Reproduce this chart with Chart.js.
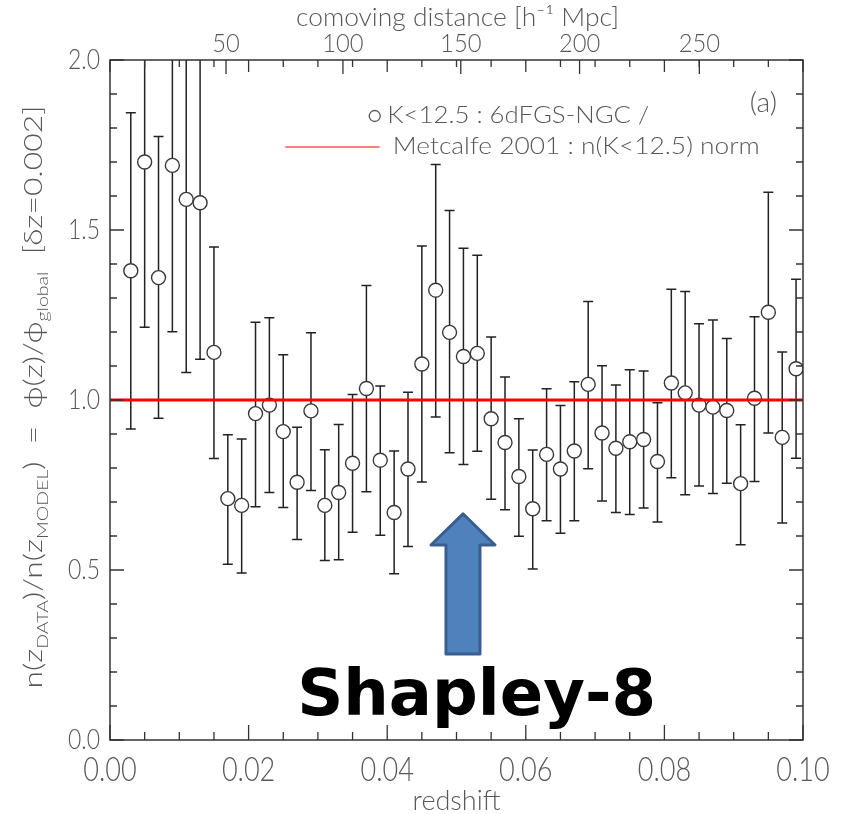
<!DOCTYPE html>
<html>
<head>
<meta charset="utf-8">
<script src="https://cdn.jsdelivr.net/npm/chart.js@4.4.1/dist/chart.umd.min.js"></script>
<style>
  html, body { margin: 0; padding: 0; background: #fff; }
  canvas { display: block; }
</style>
</head>
<body>
<canvas id="c" width="843" height="814"></canvas>
<script>
// ---------------- data ----------------
const redshift = [0.003,0.005,0.007,0.009,0.011,0.013,0.015,0.017,0.019,0.021,
                  0.023,0.025,0.027,0.029,0.031,0.033,0.035,0.037,0.039,0.041,
                  0.043,0.045,0.047,0.049,0.051,0.053,0.055,0.057,0.059,0.061,
                  0.063,0.065,0.067,0.069,0.071,0.073,0.075,0.077,0.079,0.081,
                  0.083,0.085,0.087,0.089,0.091,0.093,0.095,0.097,0.099];
const ratio    = [1.38,1.70,1.36,1.69,1.59,1.58,1.14,0.71,0.69,0.96,
                  0.985,0.907,0.758,0.968,0.690,0.728,0.814,1.034,0.823,0.669,
                  0.797,1.106,1.323,1.199,1.128,1.137,0.945,0.875,0.775,0.680,
                  0.840,0.797,0.850,1.046,0.903,0.858,0.877,0.884,0.819,1.050,
                  1.021,0.985,0.979,0.969,0.754,1.005,1.258,0.890,1.092];
const errHigh  = [1.845,2.19,1.775,2.17,2.10,2.04,1.450,0.898,0.885,1.229,
                  1.242,1.133,0.920,1.198,0.854,0.928,1.016,1.337,1.041,0.850,
                  1.023,1.453,1.693,1.557,1.446,1.426,1.185,1.068,0.945,0.853,
                  1.033,0.984,1.054,1.290,1.101,1.044,1.089,1.085,0.992,1.326,
                  1.319,1.224,1.235,1.181,0.927,1.245,1.611,1.141,1.355];
const errLow   = [0.915,1.214,0.946,1.201,1.081,1.120,0.828,0.517,0.491,0.686,
                  0.728,0.684,0.590,0.734,0.528,0.530,0.611,0.730,0.602,0.489,
                  0.569,0.759,0.950,0.845,0.810,0.849,0.708,0.677,0.599,0.503,
                  0.645,0.608,0.645,0.798,0.703,0.669,0.663,0.682,0.641,0.771,
                  0.721,0.747,0.725,0.755,0.574,0.760,0.903,0.638,0.829];
const modelLevel = [1.0, 1.0];
const modelRange = [0.0, 0.1];
const distanceTicks = [50, 100, 150, 200, 250];
const legendLabels = ['K<12.5 : 6dFGS-NGC /', 'Metcalfe 2001 : n(K<12.5) norm'];
const panelTag = '(a)';
const annotationText = 'Shapley-8';

// ---------------- helpers ----------------
const GRAY = '#585858';
const THIN = "300 {S}px Lato, 'DejaVu Sans', sans-serif";
function fnt(size, tmpl) { return (tmpl || THIN).replace('{S}', size); }

// comoving distance (h^-1 Mpc) -> redshift, flat LCDM Om=0.3
function comovingD(z) {
  const n = 200, h = z / n; let s = 0;
  const f = t => 1 / Math.sqrt(0.3 * Math.pow(1 + t, 3) + 0.7);
  for (let i = 0; i <= n; i++) {
    const w = (i === 0 || i === n) ? 1 : (i % 2 ? 4 : 2);
    s += w * f(i * h);
  }
  return 2997.92458 * s * h / 3;
}
function zOfD(d) {
  let lo = 0, hi = 0.2;
  for (let k = 0; k < 60; k++) { const m = (lo + hi) / 2; if (comovingD(m) < d) lo = m; else hi = m; }
  return (lo + hi) / 2;
}

// sx > 0: horizontal scale; sx < 0: fit to width |sx|
function drawText(ctx, s, x, y, size, align, sx, tmpl, color, baseline) {
  ctx.save();
  ctx.font = fnt(size, tmpl);
  ctx.fillStyle = color || GRAY;
  ctx.textAlign = align || 'center';
  ctx.textBaseline = baseline || 'middle';
  let k = sx || 1;
  if (k < 0) k = -k / ctx.measureText(s).width;
  ctx.translate(x, y);
  ctx.scale(k, 1);
  ctx.fillText(s, 0, 0);
  ctx.restore();
}

const near = (v, step) => Math.abs(v / step - Math.round(v / step)) < 1e-6;

const decor = {
  id: 'decor',
  beforeDatasetsDraw(chart) {
    const { ctx, chartArea: a, scales: { x, y } } = chart;
    ctx.save();
    ctx.beginPath(); ctx.rect(a.left, a.top, a.right - a.left, a.bottom - a.top); ctx.clip();
    ctx.strokeStyle = '#222'; ctx.lineWidth = 1.5;
    for (let i = 0; i < redshift.length; i++) {
      const px = x.getPixelForValue(redshift[i]);
      const yt = y.getPixelForValue(errHigh[i]);
      const yb = y.getPixelForValue(errLow[i]);
      ctx.beginPath();
      ctx.moveTo(px, yt); ctx.lineTo(px, yb);
      ctx.moveTo(px - 5, yt); ctx.lineTo(px + 5, yt);
      ctx.moveTo(px - 5, yb); ctx.lineTo(px + 5, yb);
      ctx.stroke();
    }
    ctx.restore();
  },
  afterDraw(chart) {
    const { ctx, chartArea: a, scales: { x, x2, y } } = chart;
    ctx.save();
    // frame
    ctx.strokeStyle = '#333'; ctx.lineWidth = 1.5;
    ctx.strokeRect(a.left, a.top, a.right - a.left, a.bottom - a.top);
    // inward ticks: redshift (bottom + top)
    ctx.lineWidth = 1.3;
    ctx.beginPath();
    x.ticks.forEach(t => {
      const px = x.getPixelForValue(t.value);
      const L = near(t.value, 0.02) ? 15 : 8;
      ctx.moveTo(px, a.bottom); ctx.lineTo(px, a.bottom - L);
      ctx.moveTo(px, a.top); ctx.lineTo(px, a.top + (near(t.value, 0.02) ? 12 : 7));
    });
    // top distance ticks
    x2.ticks.forEach(t => {
      const px = x2.getPixelForValue(t.value);
      ctx.moveTo(px, a.top); ctx.lineTo(px, a.top + 14);
    });
    // left + right
    y.ticks.forEach(t => {
      const py = y.getPixelForValue(t.value);
      const L = near(t.value, 0.5) ? 14 : 7;
      ctx.moveTo(a.left, py); ctx.lineTo(a.left + L, py);
      ctx.moveTo(a.right, py); ctx.lineTo(a.right - L, py);
    });
    ctx.stroke();

    // tick labels
    x.ticks.forEach(t => {
      if (!near(t.value, 0.02)) return;
      drawText(ctx, t.value.toFixed(2), x.getPixelForValue(t.value), a.bottom + 30, 33, 'center', 0.82);
    });
    x2.ticks.forEach((t, i) => {
      drawText(ctx, String(distanceTicks[i]), x2.getPixelForValue(t.value), a.top - 16, 25, 'center', 0.95);
    });
    y.ticks.forEach(t => {
      if (!near(t.value, 0.5)) return;
      drawText(ctx, t.value.toFixed(1), a.left - 10, y.getPixelForValue(t.value), 28, 'right', 0.82);
    });

    // axis titles
    drawText(ctx, 'redshift', (a.left + a.right) / 2, a.bottom + 61, 27, 'center', 1.0);
    drawText(ctx, 'comoving distance [h\u207B\u00B9 Mpc]', (a.left + a.right) / 2 + 1, 18, 25, 'center', -323);

    // y title with subscripts (rotated)
    const pieces = [['n(z', 0], ['DATA', 1], [')/n(z', 0], ['MODEL', 1], [')  =  \u03D5(z)/\u03D5', 0],
                    ['global', 1], ['  [\u03B4z=0.002]', 0]];
    const big = 26, small = 16;
    let total = 0;
    pieces.forEach(p => { ctx.font = fnt(p[1] ? small : big); p.w = ctx.measureText(p[0]).width; total += p.w; });
    const targetLen = 583;
    const sx = targetLen / total;
    ctx.save();
    ctx.translate(42, (a.top + a.bottom) / 2 - 3);
    ctx.rotate(-Math.PI / 2);
    ctx.scale(sx, 1);
    ctx.fillStyle = GRAY; ctx.textBaseline = 'alphabetic'; ctx.textAlign = 'left';
    let cx = -total / 2;
    pieces.forEach(p => {
      ctx.font = fnt(p[1] ? small : big);
      ctx.fillText(p[0], cx, p[1] ? 6 : 0);
      cx += p.w;
    });
    ctx.restore();

    // legend
    const ly1 = a.top + 56, ly2 = a.top + 87;
    ctx.strokeStyle = GRAY; ctx.lineWidth = 1.3;
    ctx.beginPath(); ctx.arc(x.getPixelForValue(0.0382), ly1, 5.5, 0, Math.PI * 2); ctx.stroke();
    drawText(ctx, legendLabels[0], x.getPixelForValue(0.0400), ly1, 23, 'left', -262, null, GRAY);
    ctx.strokeStyle = '#ff0000'; ctx.lineWidth = 1.2;
    ctx.beginPath(); ctx.moveTo(x.getPixelForValue(0.0253), ly2); ctx.lineTo(x.getPixelForValue(0.0389), ly2); ctx.stroke();
    drawText(ctx, legendLabels[1], x.getPixelForValue(0.0408), ly2, 23, 'left', -367, null, GRAY);
    drawText(ctx, panelTag, x.getPixelForValue(0.0943), a.top + 43, 27, 'center', 1.05);

    // arrow (data units)
    const P = (zx, yy) => [x.getPixelForValue(zx), y.getPixelForValue(yy)];
    const pts = [P(0.05094, 0.665), P(0.05556, 0.5735), P(0.05339, 0.5735), P(0.05339, 0.253),
                 P(0.04848, 0.253), P(0.04848, 0.5735), P(0.04632, 0.5735)];
    ctx.beginPath();
    pts.forEach((p, i) => i ? ctx.lineTo(p[0], p[1]) : ctx.moveTo(p[0], p[1]));
    ctx.closePath();
    ctx.fillStyle = '#4F81BD'; ctx.fill();
    ctx.strokeStyle = '#3A5F8E'; ctx.lineWidth = 3; ctx.lineJoin = 'round'; ctx.stroke();

    // annotation text
    drawText(ctx, annotationText, x.getPixelForValue(0.0529), y.getPixelForValue(0.0735), 64,
             'center', 1.0, "bold {S}px 'DejaVu Sans', Verdana, sans-serif", '#000', 'alphabetic');
    ctx.restore();
  }
};

new Chart(document.getElementById('c'), {
  type: 'scatter',
  data: {
    datasets: [
      {
        type: 'line',
        label: legendLabels[1],
        data: modelRange.map((v, i) => ({ x: v, y: modelLevel[i] })),
        borderColor: '#ff0000',
        borderWidth: 3,
        pointRadius: 0,
        order: 0
      },
      {
        label: legendLabels[0],
        data: redshift.map((v, i) => ({ x: v, y: ratio[i] })),
        pointStyle: 'circle',
        pointRadius: 7,
        pointBorderWidth: 1.4,
        pointBorderColor: '#383838',
        pointBackgroundColor: '#ffffff',
        showLine: false,
        order: 1
      }
    ]
  },
  options: {
    responsive: false,
    animation: false,
    devicePixelRatio: 1,
    layout: { padding: { left: 0, right: 40, top: 0, bottom: 0 } },
    plugins: { legend: { display: false }, tooltip: { enabled: false } },
    scales: {
      x: {
        type: 'linear', position: 'bottom', min: 0, max: 0.1,
        ticks: { display: false, stepSize: 0.005 },
        grid: { display: false }, border: { display: false },
        afterFit(s) { s.height = 74; }
      },
      x2: {
        type: 'linear', position: 'top', min: 0, max: 0.1,
        ticks: { display: false },
        grid: { display: false }, border: { display: false },
        afterBuildTicks(s) { s.ticks = distanceTicks.map(d => ({ value: zOfD(d) })); },
        afterFit(s) { s.height = 60; }
      },
      y: {
        type: 'linear', position: 'left', min: 0, max: 2,
        ticks: { display: false, stepSize: 0.1 },
        grid: { display: false }, border: { display: false },
        afterFit(s) { s.width = 110; }
      }
    }
  },
  plugins: [decor]
});
</script>
</body>
</html>
